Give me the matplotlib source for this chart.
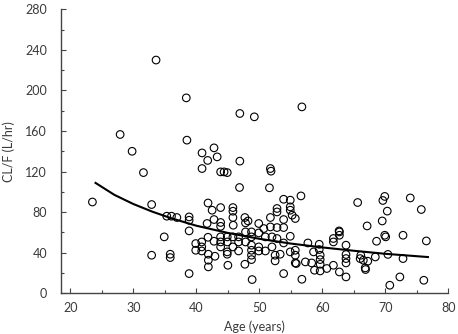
import matplotlib
matplotlib.use('Agg')
import matplotlib.pyplot as plt
from matplotlib.ticker import MultipleLocator

# observed age (years) and CL/F (L/hr)
age = [23.5, 27.9, 29.8, 31.6, 32.9, 32.9, 33.6, 38.4, 46.9, 49.2,
       38.5, 40.9, 42.8, 41.8, 43.3, 46.9, 40.9, 43.85, 44.4, 44.9,
       51.75, 51.85, 46.85, 51.6, 41.85, 43.85, 42.5, 45.8, 45.8, 35.3,
       36.05, 36.9, 38.85, 38.85, 38.85, 41.7, 42.8, 43.85, 43.85, 45.8,
       45.85, 47.7, 48.2, 47.8, 49.9, 50.7, 51.75, 34.9, 39.9, 40.85,
       40.85, 39.9, 40.85, 41.85, 42.8, 43.85, 43.85, 43.85, 44.9, 44.9,
       44.9, 44.9, 45.8, 45.8, 46.7, 46.7, 46.7, 47.8, 47.8, 48.75,
       48.75, 48.75, 48.75, 48.75, 48.75, 49.9, 49.9, 49.9, 50.95, 50.95,
       52.0, 52.0, 52.5, 52.5, 41.9, 41.9, 41.9, 42.95, 45.0, 47.7,
       38.85, 48.85, 35.85, 35.85, 56.75, 53.85, 54.9, 56.6, 54.9, 54.9,
       52.8, 52.8, 55.2, 55.7, 53.85, 52.8, 53.85, 51.75, 54.9, 52.8,
       53.85, 54.9, 55.7, 55.7, 53.3, 55.7, 53.85, 56.75, 57.7, 58.6,
       59.5, 59.5, 59.65, 59.65, 59.65, 58.3, 57.3, 58.75, 59.65, 60.7,
       61.75, 61.75, 62.7, 62.7, 63.75, 63.75, 63.75, 63.75, 61.75, 62.7,
       63.75, 65.6, 67.1, 66.1, 66.5, 66.85, 67.2, 68.4, 68.6, 69.5,
       69.9, 70.05, 69.6, 69.9, 70.3, 70.4, 70.7, 73.95, 75.7, 72.8,
       76.5, 72.8, 72.3, 76.1, 62.65, 66.0, 66.8, 55.85]
clf = [90, 156.6, 140, 119, 87.5, 37.5, 230, 192.7, 177.3, 174,
       151, 138.4, 143.4, 131, 134.5, 130.3, 123, 119.7, 119.7, 119,
       123, 120.4, 104.3, 104, 89, 84.5, 81.9, 84.5, 80.9, 76,
       76, 74.7, 75.3, 72, 61.5, 68.8, 72.7, 69.8, 66, 74.7,
       67.1, 74.7, 71.3, 69.4, 68.8, 63.8, 74.7, 55.6, 49, 50.6,
       45.7, 42.4, 41.7, 55.2, 51.3, 55.6, 50.6, 45.7, 55.6, 50.6,
       40.8, 38.5, 55.6, 45.7, 55.6, 50.6, 41.7, 60.5, 50.6, 60.5,
       55.6, 47.4, 42.4, 37.5, 33.2, 59.5, 45.7, 41.7, 55.6, 41.7,
       55.6, 45.7, 37.5, 31.9, 38.5, 32.6, 26, 36.5, 27.6, 28.6,
       19.4, 13.5, 38.5, 35.2, 183.8, 92.7, 91.8, 96, 85.2, 81.9,
       83.6, 80.2, 77, 73.7, 72.7, 64.8, 64.8, 65.4, 56.2, 54,
       49.6, 40.8, 42.4, 37.5, 38.5, 29.9, 19.4, 13.8, 49.6, 40.8,
       48.3, 43.1, 37.5, 33.2, 28.6, 29.9, 30.9, 22.7, 22, 24.4,
       54, 50.6, 60.5, 57.2, 47.4, 38.2, 34.2, 29.9, 27.6, 21,
       16.1, 89.5, 66.4, 37.5, 32.6, 23.4, 31.6, 35.8, 51.3, 71.3,
       57.2, 55.6, 91.5, 95.5, 81, 38.3, 7.9, 94, 82.6, 57.2,
       51.6, 34.2, 16.1, 12.8, 61.5, 34.2, 25, 29.3]

# fitted line
fit_age = [24, 27, 30, 33, 36, 40, 45, 50, 55, 60, 65, 70, 76.75]
fit_clf = [108.8, 97, 88, 80.5, 74, 66.6, 59.5, 53.7, 49, 45.2, 41.9, 38.9, 35.7]

txt = '#3a3a3a'
plt.rcParams['font.family'] = ['Lato', 'DejaVu Sans']

fig = plt.figure(figsize=(4.58, 3.34), dpi=100)
ax = fig.add_axes([0.133, 0.122, 0.846, 0.85])

ax.scatter(age, clf, s=30, facecolors='none', edgecolors='black', linewidths=0.8, zorder=2)
ax.plot(fit_age, fit_clf, color='black', linewidth=1.5, zorder=3)

ax.set_xlim(18.5, 80)
ax.set_ylim(0, 280)
ax.xaxis.set_major_locator(MultipleLocator(10))
ax.xaxis.set_minor_locator(MultipleLocator(5))
ax.yaxis.set_major_locator(MultipleLocator(40))
ax.yaxis.set_minor_locator(MultipleLocator(20))

for s in ['top', 'right']:
    ax.spines[s].set_visible(False)
for s in ['left', 'bottom']:
    ax.spines[s].set_color('#444444')
    ax.spines[s].set_linewidth(1.0)

ax.tick_params(which='major', direction='in', length=3.5, width=0.8, color='#444444',
               labelsize=9, labelcolor=txt)
ax.tick_params(which='minor', direction='in', length=2, width=0.8, color='#444444')
ax.tick_params(axis='x', which='major', pad=6)
ax.tick_params(axis='y', which='major', pad=10)

ax.set_xlabel('Age (years)', fontsize=9, color=txt, labelpad=5)
ax.set_ylabel('CL/F (L/hr)', fontsize=9, color=txt, labelpad=7)

fig.savefig('out.png', dpi=100)
